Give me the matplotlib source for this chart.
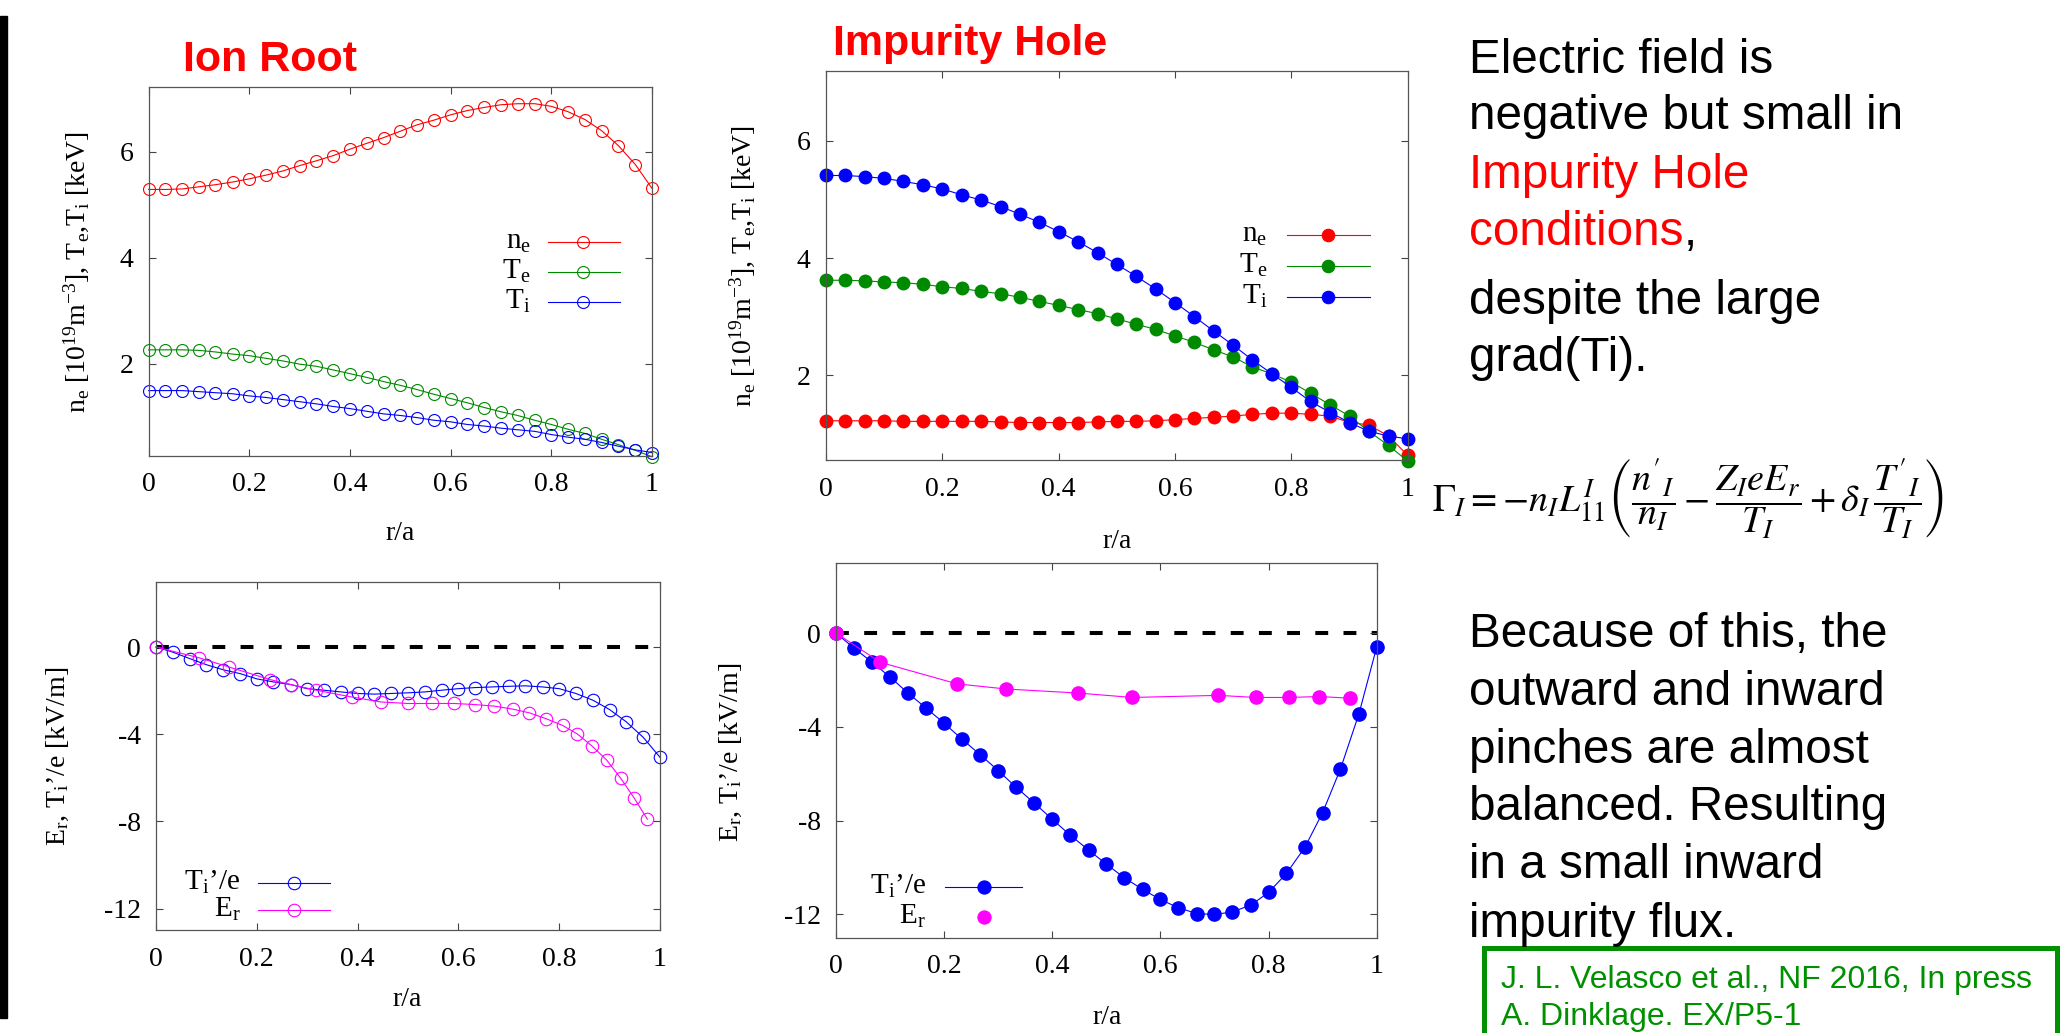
import matplotlib
matplotlib.use("Agg")
from matplotlib import pyplot as plt
from matplotlib.patches import Rectangle

W, H = 2072, 1033

# ---- values ----
r_grid = [0.000, 0.033, 0.067, 0.100, 0.133, 0.167, 0.200, 0.233, 0.267, 0.300,
          0.333, 0.367, 0.400, 0.433, 0.467, 0.500, 0.533, 0.567, 0.600, 0.633,
          0.667, 0.700, 0.733, 0.767, 0.800, 0.833, 0.867, 0.900, 0.933, 0.967, 1.000]

# Ion Root profiles
ir_ne = [5.29, 5.29, 5.30, 5.34, 5.38, 5.43, 5.49, 5.56, 5.64, 5.74, 5.83, 5.93, 6.05, 6.16, 6.27, 6.39,
         6.51, 6.60, 6.70, 6.78, 6.84, 6.89, 6.91, 6.91, 6.86, 6.76, 6.61, 6.40, 6.12, 5.76, 5.31]
ir_te = [2.26, 2.26, 2.26, 2.25, 2.22, 2.18, 2.15, 2.10, 2.05, 1.99, 1.95, 1.88, 1.81, 1.74, 1.66, 1.59,
         1.51, 1.42, 1.34, 1.26, 1.17, 1.09, 1.02, 0.93, 0.85, 0.76, 0.68, 0.57, 0.47, 0.36, 0.24]
ir_ti = [1.49, 1.49, 1.49, 1.47, 1.45, 1.43, 1.39, 1.36, 1.32, 1.28, 1.24, 1.19, 1.15, 1.10, 1.05, 1.02,
         0.98, 0.93, 0.90, 0.85, 0.82, 0.78, 0.75, 0.72, 0.66, 0.61, 0.57, 0.51, 0.44, 0.37, 0.32]

# Impurity Hole profiles
ih_ne = [1.22, 1.22, 1.22, 1.22, 1.21, 1.21, 1.21, 1.21, 1.21, 1.20, 1.19, 1.19, 1.19, 1.19, 1.20, 1.21,
         1.21, 1.22, 1.24, 1.26, 1.28, 1.30, 1.33, 1.35, 1.35, 1.33, 1.30, 1.19, 1.15, 0.96, 0.63]
ih_te = [3.62, 3.62, 3.61, 3.59, 3.58, 3.55, 3.51, 3.48, 3.43, 3.39, 3.33, 3.26, 3.19, 3.12, 3.05, 2.96,
         2.87, 2.78, 2.67, 2.56, 2.43, 2.31, 2.14, 2.02, 1.88, 1.69, 1.49, 1.30, 1.04, 0.80, 0.53]
ih_ti = [5.41, 5.41, 5.39, 5.36, 5.31, 5.25, 5.18, 5.08, 4.99, 4.88, 4.75, 4.61, 4.45, 4.28, 4.09, 3.89,
         3.69, 3.47, 3.24, 3.00, 2.75, 2.51, 2.26, 2.02, 1.79, 1.55, 1.36, 1.19, 1.04, 0.96, 0.91]

# Ion Root fields
ir_dti = [0.00, -0.23, -0.53, -0.81, -1.04, -1.22, -1.46, -1.60, -1.72, -1.91, -1.98, -2.06, -2.13, -2.16,
          -2.13, -2.10, -2.06, -1.98, -1.91, -1.86, -1.83, -1.80, -1.78, -1.83, -1.91, -2.13, -2.44,
          -2.87, -3.43, -4.15, -5.06]
ir_er_r = [0.000, 0.085, 0.144, 0.226, 0.267, 0.318, 0.388, 0.446, 0.500, 0.547, 0.592, 0.633,
           0.671, 0.708, 0.741, 0.773, 0.807, 0.836, 0.865, 0.894, 0.922, 0.949, 0.975]
ir_er = [0.00, -0.49, -0.91, -1.49, -1.72, -1.98, -2.29, -2.52, -2.59, -2.59, -2.59, -2.64,
         -2.71, -2.85, -3.02, -3.28, -3.60, -3.99, -4.54, -5.18, -6.02, -6.94, -7.90]

# Impurity Hole fields
ih_dti = [0.00, -0.64, -1.25, -1.88, -2.56, -3.21, -3.85, -4.53, -5.20, -5.87, -6.58, -7.26, -7.95, -8.62,
          -9.26, -9.86, -10.44, -10.94, -11.37, -11.72, -11.97, -12.01, -11.90, -11.61, -11.07, -10.26,
          -9.15, -7.66, -5.80, -3.46, -0.60]
ih_er_r = [0.000, 0.082, 0.224, 0.315, 0.447, 0.548, 0.707, 0.776, 0.837, 0.894, 0.950]
ih_er = [0.00, -1.25, -2.17, -2.39, -2.56, -2.75, -2.66, -2.75, -2.75, -2.71, -2.78]

xticks = [0, 0.2, 0.4, 0.6, 0.8, 1.0]
xtick_labels = ['0', '0.2', '0.4', '0.6', '0.8', '1']
prof_yticks = [2, 4, 6]
field_yticks = [0, -4, -8, -12]

RED, GREEN, BLUE, MAG = '#ff0000', '#008a00', '#0000ff', '#ff00ff'
BOXGREEN = '#009000'

plt.rcParams['font.family'] = ['Liberation Serif', 'DejaVu Serif']
plt.rcParams['mathtext.fontset'] = 'custom'
plt.rcParams['mathtext.rm'] = 'Liberation Serif'
plt.rcParams['mathtext.it'] = 'Liberation Serif:italic'
plt.rcParams['mathtext.bf'] = 'Liberation Serif:bold'
plt.rcParams['axes.unicode_minus'] = False

fig = plt.figure(figsize=(W / 100, H / 100), dpi=100)


def pt(x, y):
    # pixel (from top-left) -> figure fraction
    return x / W, 1 - y / H


def add_axes(l, t, r, b):
    return fig.add_axes([l / W, 1 - b / H, (r - l) / W, (b - t) / H])


def style(ax, ylim, yticks):
    ax.set_xlim(0, 1)
    ax.set_ylim(*ylim)
    ax.set_xticks(xticks)
    ax.set_xticklabels(xtick_labels)
    ax.set_yticks(yticks)
    ax.set_yticklabels([str(v) for v in yticks])
    ax.tick_params(direction='in', length=5, width=0.8, colors='#444444', labelcolor='black',
                   labelsize=20, top=True, right=True)
    ax.tick_params(axis='x', pad=12)
    ax.tick_params(axis='y', pad=11)
    for s in ax.spines.values():
        s.set_color('#555555')
        s.set_linewidth(0.9)


def key(ax, y, label, color, filled, ms, line=True, tx=0.759, lx=(0.793, 0.936), mx=0.863):
    hpx = ax.get_position().height * H
    ax.text(tx, y - 7 / hpx, label, transform=ax.transAxes, ha='right', va='baseline', fontsize=21)
    if line:
        ax.plot(lx, [y, y], transform=ax.transAxes, color=color, lw=0.8, clip_on=False)
    ax.plot([mx], [y], transform=ax.transAxes, marker='o', ms=ms, mec=color,
            mfc=color if filled else 'none', mew=0.8, clip_on=False)


def open_series(ax, x, y, color, ms=8.6):
    ax.plot(x, y, color=color, lw=0.8, marker='o', ms=ms, mfc='none', mec=color, mew=0.8, clip_on=False)


def filled_series(ax, x, y, color, ms=9):
    ax.plot(x, y, color=color, lw=0.8, marker='o', ms=ms, mfc=color, mec=color, clip_on=False)


# ---- Ion Root: profiles ----
ax1 = add_axes(148.5, 87.3, 652, 455.7)
style(ax1, (0.26, 7.22), prof_yticks)
open_series(ax1, r_grid, ir_ne, RED)
open_series(ax1, r_grid, ir_te, GREEN)
open_series(ax1, r_grid, ir_ti, BLUE)
key(ax1, 0.580, r'$\mathrm{n_e}$', RED, False, 8.6)
key(ax1, 0.500, r'$\mathrm{T_e}$', GREEN, False, 8.6)
key(ax1, 0.417, r'$\mathrm{T_i}$', BLUE, False, 8.6)

# ---- Impurity Hole: profiles ----
ax2 = add_axes(826, 70.7, 1407.7, 460)
style(ax2, (0.55, 7.2), prof_yticks)
filled_series(ax2, r_grid, ih_ne, RED)
filled_series(ax2, r_grid, ih_te, GREEN)
filled_series(ax2, r_grid, ih_ti, BLUE)
key(ax2, 0.579, r'$\mathrm{n_e}$', RED, True, 9)
key(ax2, 0.498, r'$\mathrm{T_e}$', GREEN, True, 9)
key(ax2, 0.418, r'$\mathrm{T_i}$', BLUE, True, 9)

# ---- Ion Root: fields ----
ax3 = add_axes(156, 581.7, 660, 930.3)
style(ax3, (-13, 3), field_yticks)
ax3.axhline(0, color='black', lw=2.9, dashes=(3.2, 3.8), zorder=1)
open_series(ax3, r_grid, ir_dti, BLUE, ms=9)
open_series(ax3, ir_er_r, ir_er, MAG, ms=9)
key(ax3, 0.137, r'$\mathrm{T_i}$’/e', BLUE, False, 9, tx=0.167, lx=(0.202, 0.345), mx=0.274)
key(ax3, 0.059, r'$\mathrm{E_r}$', MAG, False, 9, tx=0.167, lx=(0.202, 0.345), mx=0.274)

# ---- Impurity Hole: fields ----
ax4 = add_axes(836, 562.7, 1376.7, 937.7)
style(ax4, (-13, 3), field_yticks)
ax4.axhline(0, color='black', lw=2.9, dashes=(3.2, 3.8), zorder=1)
filled_series(ax4, r_grid, ih_dti, BLUE, ms=9.5)
ax4.plot(ih_er_r, ih_er, color=MAG, lw=0.8)
ax4.plot(ih_er_r, ih_er, ls='none', marker='o', ms=9.5, color=MAG, clip_on=False)
key(ax4, 0.136, r'$\mathrm{T_i}$’/e', BLUE, True, 9.5, tx=0.166, lx=(0.201, 0.344), mx=0.274)
key(ax4, 0.056, r'$\mathrm{E_r}$', MAG, True, 9.5, line=False, tx=0.166, mx=0.274)

# axis titles, placed like the slide
for (x, y) in [(400, 533), (1117, 541), (407, 1000), (1107, 1017)]:
    fig.text(*pt(x, y), 'r/a', ha='center', va='center', fontsize=20)
prof_label = r'$\mathrm{n_e}$ [$\mathrm{10^{19}m^{-3}}$], $\mathrm{T_e}$,$\mathrm{T_i}$ [keV]'
field_label = r'$\mathrm{E_r}$, $\mathrm{T_i}$’/e [kV/m]'
fig.text(*pt(76, 272), prof_label, rotation=90, ha='center', va='center', fontsize=20)
fig.text(*pt(742, 266), prof_label, rotation=90, ha='center', va='center', fontsize=20)
fig.text(*pt(58, 756), field_label, rotation=90, ha='center', va='center', fontsize=20)
fig.text(*pt(731, 752), field_label, rotation=90, ha='center', va='center', fontsize=20)

# panel headings
fig.text(*pt(183, 71.4), 'Ion Root', color=RED, fontsize=31, fontweight='bold',
         family='Liberation Sans', va='baseline')
fig.text(*pt(833, 55), 'Impurity Hole', color=RED, fontsize=31, fontweight='bold',
         family='Liberation Sans', va='baseline')

# slide text on the right
SANS = dict(family='Liberation Sans', fontsize=34.3, va='baseline')
renderer = fig.canvas.get_renderer()
top_lines = [('Electric field is', 73, 'black'), ('negative but small in', 129, 'black'),
             ('Impurity Hole', 187.5, RED), ('conditions', 245, RED),
             ('despite the large', 314, 'black'), ('grad(Ti).', 371, 'black')]
for txt, yb, c in top_lines:
    t = fig.text(*pt(1469, yb), txt, color=c, **SANS)
    if txt == 'conditions':
        bb = t.get_window_extent(renderer=renderer)
        fig.text(bb.x1 / W, 1 - yb / H, ',', color='black', **SANS)

bottom_lines = [('Because of this, the', 646.7), ('outward and inward', 705), ('pinches are almost', 763),
                ('balanced. Resulting', 820), ('in a small inward', 878), ('impurity flux.', 936.7)]
for txt, yb in bottom_lines:
    fig.text(*pt(1469, yb), txt, color='black', **SANS)

# impurity flux formula
eq = fig.text(*pt(1432, 498),
              r"$\Gamma_I = -n_I L^{I}_{11}\left(\dfrac{n'_I}{n_I} - \dfrac{Z_I e E_r}{T_I}"
              r" + \delta_I\,\dfrac{T'_I}{T_I}\right)$",
              math_fontfamily='stix', fontsize=30, ha='left', va='center')
bb = eq.get_window_extent(renderer=renderer)
eq.set_fontsize(30 * 512 / bb.width)

# reference box
fig.add_artist(Rectangle(pt(1484, 1045), (2056.5 - 1484) / W, (1045 - 947.5) / H,
                         transform=fig.transFigure, fill=False, ec=BOXGREEN, lw=3.6, clip_on=False))
fig.text(*pt(1501, 988), 'J. L. Velasco et al., NF 2016, In press', color=BOXGREEN,
         family='Liberation Sans', fontsize=23, va='baseline')
fig.text(*pt(1501, 1025), 'A. Dinklage. EX/P5-1', color=BOXGREEN,
         family='Liberation Sans', fontsize=23, va='baseline')

# black strip along the left edge of the slide
fig.add_artist(Rectangle(pt(0, 1018), 7 / W, (1018 - 16) / H, transform=fig.transFigure,
                         color='black'))

fig.savefig('out.png', dpi=100)
